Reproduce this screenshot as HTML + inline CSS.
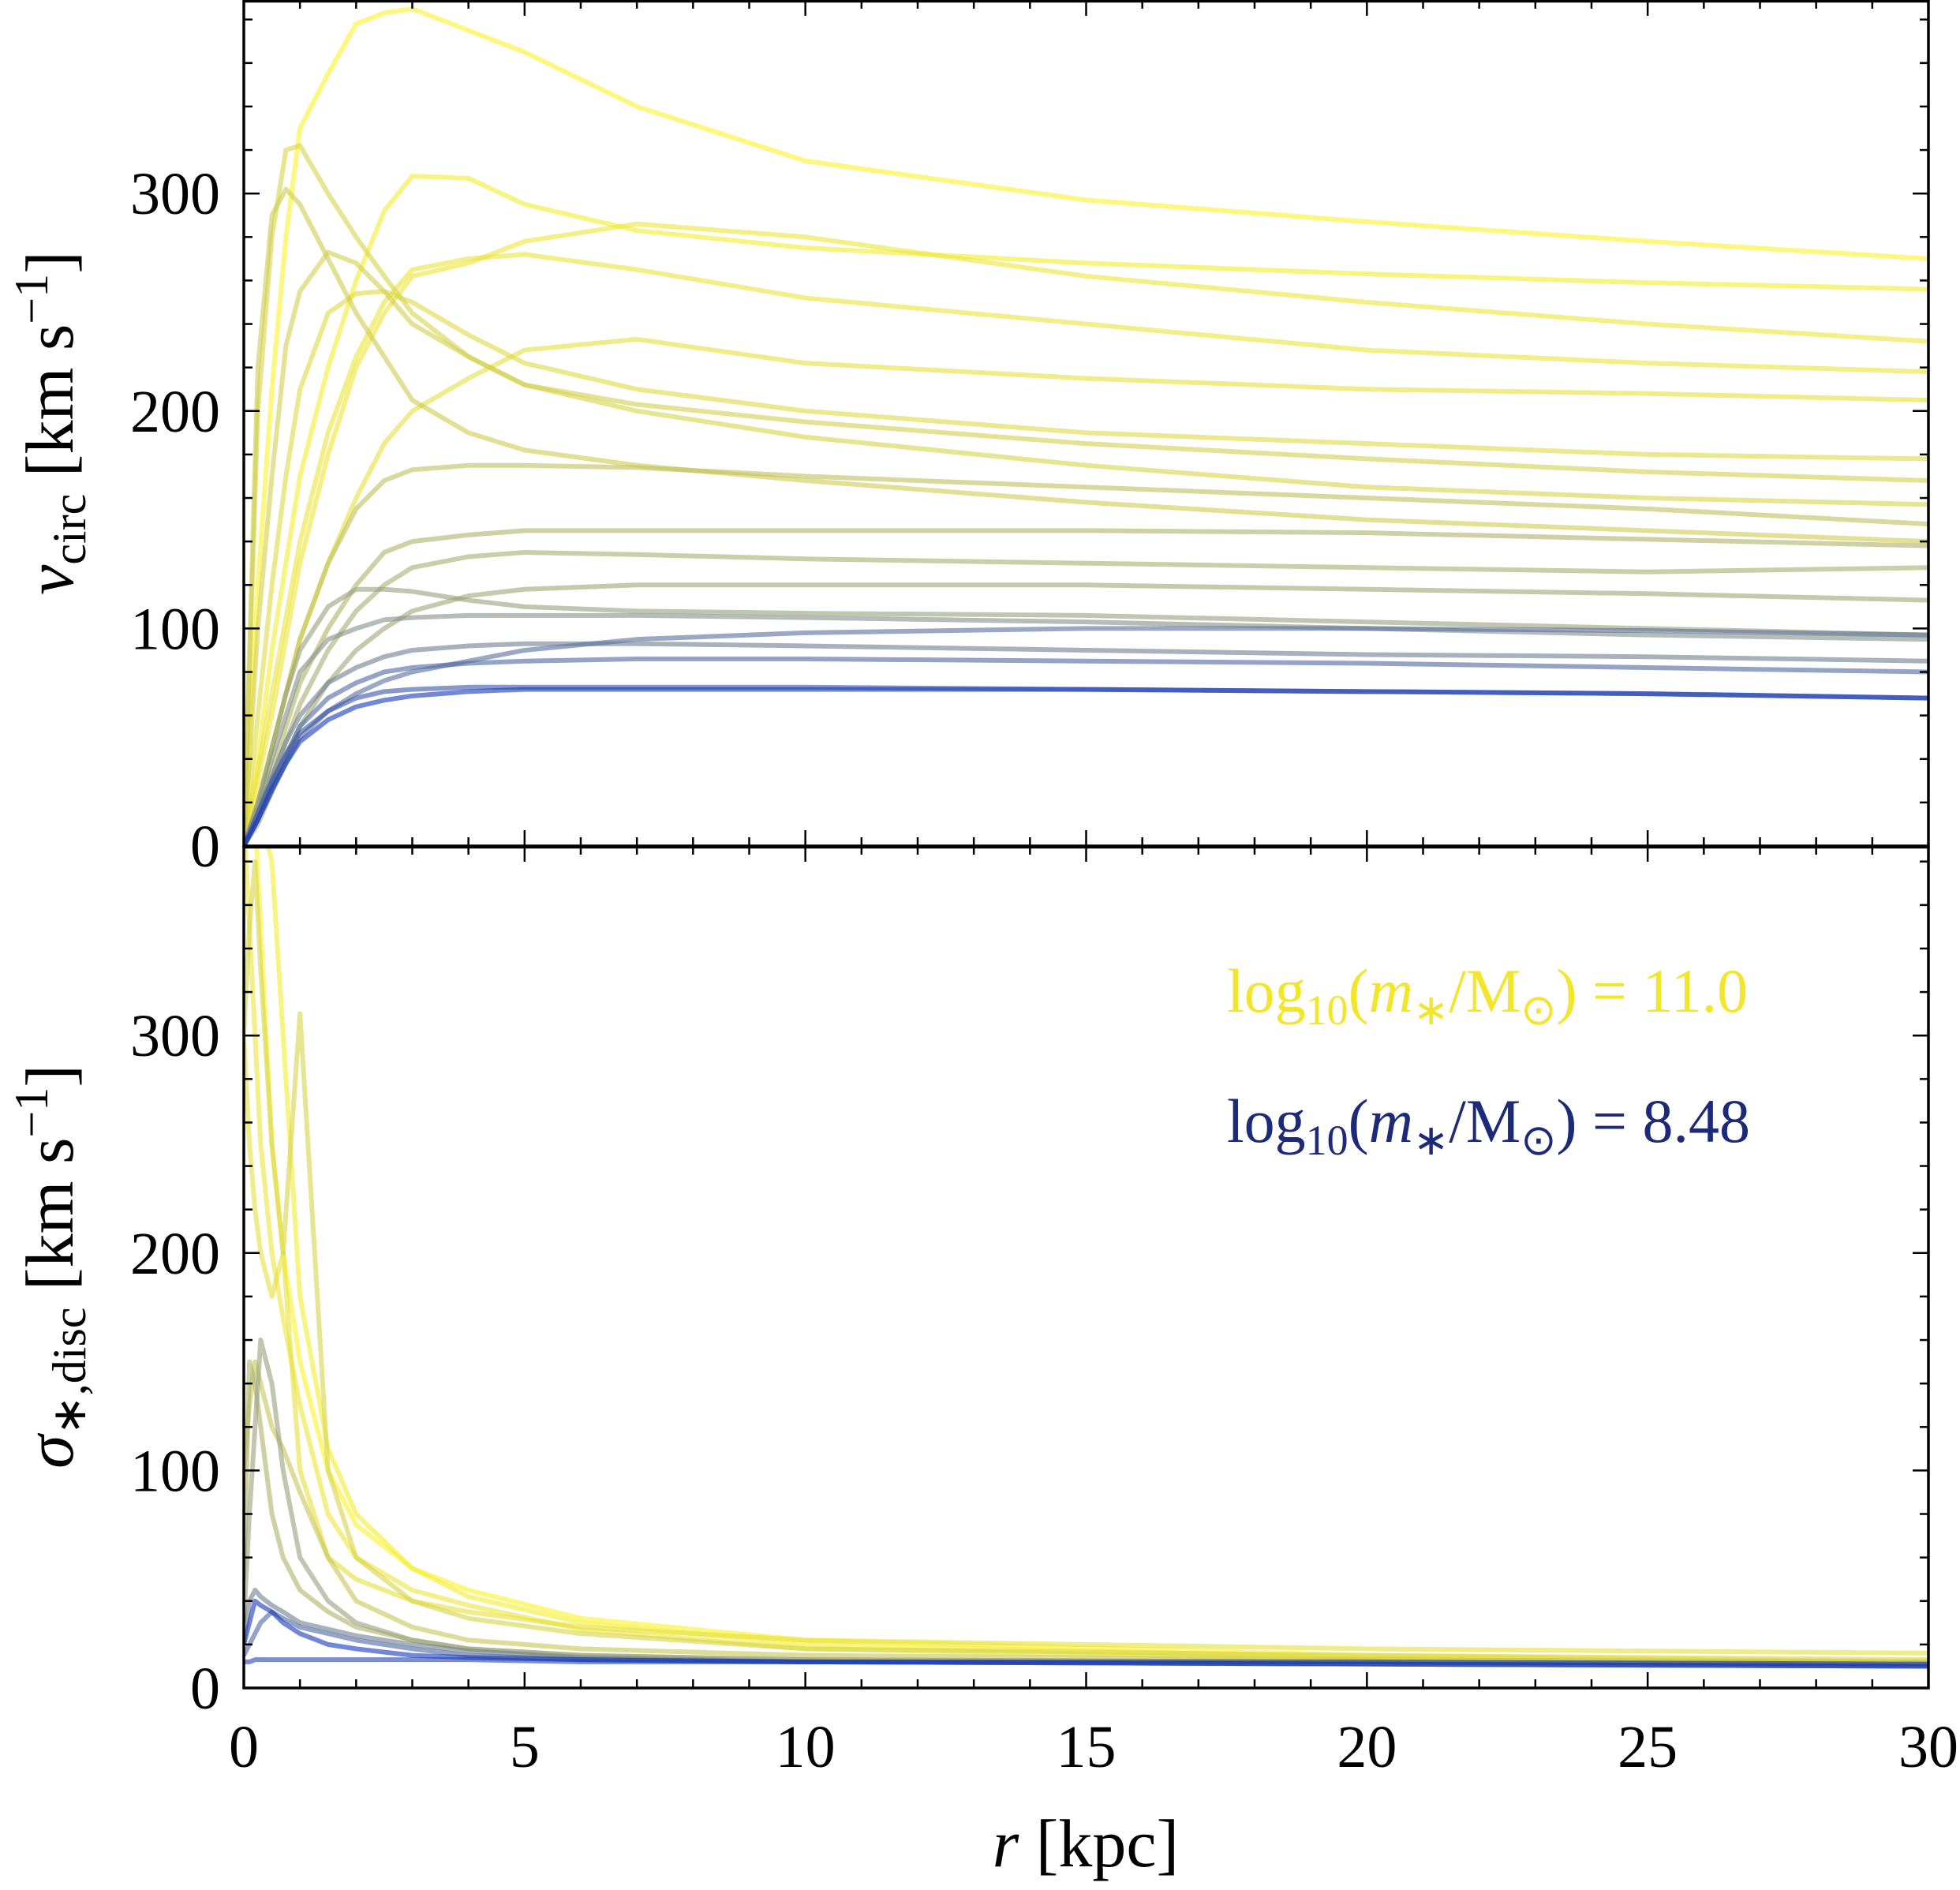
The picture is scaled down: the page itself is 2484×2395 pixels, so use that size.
<!DOCTYPE html>
<html><head><meta charset="utf-8"><style>
body{margin:0;background:#fff}
text{font-family:"Liberation Serif",serif;fill:#000}
</style></head><body>
<svg id="chart" width="2484" height="2390" viewBox="0 0 2484 2390" xmlns="http://www.w3.org/2000/svg">
<defs>
<clipPath id="ctop"><rect x="309" y="0" width="2135" height="1072"/></clipPath>
<clipPath id="cbot"><rect x="309" y="1072" width="2135" height="1067"/></clipPath>
</defs>
<g id="gtop" clip-path="url(#ctop)"></g>
<g id="gbot" clip-path="url(#cbot)"></g>
<g id="axes"></g>
<text x="1555" y="1282" font-size="78" style="fill:#f2e52a">log<tspan font-size="54" dy="16">10</tspan><tspan dy="-16">(</tspan><tspan font-style="italic">m</tspan><tspan font-size="54" dy="16">∗</tspan><tspan dy="-16">/M</tspan><tspan font-size="54" dy="16">⊙</tspan><tspan dy="-16">) = 11.0</tspan></text>
<text x="1555" y="1447" font-size="78" style="fill:#1c2a78">log<tspan font-size="54" dy="16">10</tspan><tspan dy="-16">(</tspan><tspan font-style="italic">m</tspan><tspan font-size="54" dy="16">∗</tspan><tspan dy="-16">/M</tspan><tspan font-size="54" dy="16">⊙</tspan><tspan dy="-16">) = 8.48</tspan></text>
<text x="1376" y="2365" font-size="86" text-anchor="middle"><tspan font-style="italic">r</tspan> [kpc]</text>
<text transform="translate(92,536) rotate(-90)" font-size="86" text-anchor="middle"><tspan font-style="italic">v</tspan><tspan font-size="60" dy="16">circ</tspan><tspan dy="-16"> [km s</tspan><tspan font-size="60" dy="-32">−1</tspan><tspan dy="32">]</tspan></text>
<text transform="translate(92,1605) rotate(-90)" font-size="86" text-anchor="middle"><tspan font-style="italic">σ</tspan><tspan font-size="60" dy="16">∗,disc</tspan><tspan dy="-16"> [km s</tspan><tspan font-size="60" dy="-32">−1</tspan><tspan dy="32">]</tspan></text>
</svg>
<script>
const rTop=[0,0.25,0.5,0.75,1,1.5,2,2.5,3,4,5,7,10,15,20,25,30];
const massTop=[11.0,10.9,10.8,10.75,10.5,10.4,10.45,10.6,10.7,10.2,10.0,9.9,9.7,9.8,9.5,9.3,9.0,8.8,8.48,9.1];
const vTop=[
[0,120,210,280,330,355,378,383,385,375,365,340,315,297,287,278,270],
[0,40,90,130,170,220,260,292,308,307,295,283,275,268,263,259,256],
[0,30,60,95,130,180,220,245,262,268,278,286,280,262,250,240,232],
[0,35,70,105,140,190,225,250,265,270,272,265,252,240,228,222,218],
[0,200,280,320,322,300,280,262,245,225,212,200,188,175,165,160,157],
[0,220,290,302,295,270,245,225,205,190,182,175,168,158,150,145,140],
[0,100,170,230,255,273,268,255,240,225,212,203,195,185,178,172,168],
[0,60,120,170,210,245,254,255,250,235,222,210,200,190,185,180,178],
[0,20,45,70,95,130,160,185,200,215,228,233,222,215,210,208,205],
[0,20,45,70,95,130,155,168,173,175,175,174,170,165,160,155,148],
[0,15,35,55,75,100,120,135,140,143,145,145,145,145,144,141,138],
[0,15,30,48,65,90,108,120,128,133,135,134,132,130,128,126,128],
[0,20,45,70,90,110,118,118,117,113,110,108,107,106,103,100,97],
[0,10,25,40,55,75,90,100,108,115,118,120,120,120,118,116,113],
[0,18,40,60,80,95,100,104,105,106,106,106,105,103,100,97,95],
[0,15,32,48,60,75,82,87,90,92,93,93,92,90,88,87,85],
[0,12,28,42,55,68,75,80,82,84,85,86,86,85,84,82,80],
[0,15,30,42,52,62,68,71,72,73,73,73,73,72,71,70,68],
[0,12,26,38,48,58,64,67,69,71,72,72,72,72,71,70,68],
[0,12,25,38,50,62,70,76,80,85,90,95,98,100,100,99,97]];
const rBot=[0,0.1,0.2,0.3,0.5,0.7,1,1.5,2,3,4,6,10,20,30];
const massBot=[11.0,10.9,10.8,10.5,10.7,10.0,9.7,9.3,9.0,8.6,8.48,10.3];
const sBot=[
[400,400,400,350,250,200,150,100,75,55,45,32,22,15,12],
[400,400,400,400,380,300,180,110,80,55,42,30,20,14,12],
[400,350,300,250,200,170,130,80,60,45,38,27,18,13,12],
[300,350,380,330,250,200,310,100,60,40,32,25,18,15,13],
[300,250,220,200,180,200,100,60,50,40,35,28,22,18,16],
[50,150,140,120,80,60,45,35,28,22,18,15,13,12,11],
[30,80,120,160,140,100,60,40,30,22,18,15,13,12,11],
[20,40,45,42,38,35,30,27,24,20,17,14,12,11,10],
[15,20,25,30,35,32,28,25,22,18,15,13,12,11,10],
[12,12,13,13,13,13,13,13,13,13,13,12,12,12,11],
[20,30,40,38,35,30,25,20,18,15,14,13,12,11,10],
[100,130,150,140,120,110,90,60,40,28,22,18,15,13,12]];
const xTicks=[0,5,10,15,20,25,30];
const yTicks=[0,100,200,300];

const X0=309,X1=2444,TOP0=1072,BOT0=2139,PPU=275.6/100;
const sx=r=>X0+(X1-X0)*r/30;
const syT=v=>TOP0-v*PPU;
const syB=v=>BOT0-v*PPU;
function col(m){
  const t=Math.max(0,Math.min(1,(m-8.48)/(11-8.48)));
  const a=[20,55,185],b=[145,155,130],c=[252,242,40];
  let p,q,u; if(t<0.45){p=a;q=b;u=t/0.45}else{p=b;q=c;u=(t-0.45)/0.55}
  return `rgb(${p.map((x,i)=>Math.round(x+(q[i]-x)*u)).join(',')})`;
}
const NS='http://www.w3.org/2000/svg';
function draw(g,rs,vals,masses,sy,name){
  const order=masses.map((m,i)=>i).sort((i,j)=>masses[j]-masses[i]);
  order.forEach(i=>{
    const p=document.createElementNS(NS,'polyline');
    p.setAttribute('points',rs.map((r,k)=>sx(r)+','+sy(vals[i][k])).join(' '));
    p.setAttribute('fill','none');p.setAttribute('stroke',col(masses[i]));
    p.setAttribute('stroke-width','6');p.setAttribute('stroke-opacity','0.6');
    p.setAttribute('stroke-linejoin','round');
    
    
    g.appendChild(p);
  });
}
draw(document.getElementById('gtop'),rTop,vTop,massTop,syT,'vcirc-curve');
draw(document.getElementById('gbot'),rBot,sBot,massBot,syB,'sigma-curve');

const ax=document.getElementById('axes');
function ln(x1,y1,x2,y2,w){const l=document.createElementNS(NS,'line');l.setAttribute('x1',x1);l.setAttribute('y1',y1);l.setAttribute('x2',x2);l.setAttribute('y2',y2);l.setAttribute('stroke','#000');l.setAttribute('stroke-width',w);


ax.appendChild(l);}
function tx(x,y,s,anchor,name){const t=document.createElementNS(NS,'text');t.setAttribute('x',x);t.setAttribute('y',y);t.setAttribute('font-size','76');t.setAttribute('text-anchor',anchor);t.textContent=s;


ax.appendChild(t);}
[[0,TOP0],[TOP0,BOT0]].forEach(([y0,y1])=>{
  const r=document.createElementNS(NS,'rect');r.setAttribute('x',X0);r.setAttribute('y',y0+1.5);r.setAttribute('width',X1-X0);r.setAttribute('height',y1-y0-1.5);r.setAttribute('fill','none');r.setAttribute('stroke','#000');r.setAttribute('stroke-width','3.5');
  
  
  ax.appendChild(r);
});
for(let r=0;r<=30;r++){const x=sx(r);const L=r%5===0?20:11;
  [0,TOP0,BOT0].forEach(y=>{ if(y!==0)ln(x,y,x,y-L,2.5); if(y!==BOT0)ln(x,y,x,y+L,2.5);});}
xTicks.forEach(r=>tx(sx(r),BOT0+100,String(r),'middle','x-tick-label'));
[syT,syB].forEach(sy=>{
  for(let v=0;v<=389;v+=20){const y=sy(v);if(y<0)continue;const L=v%100===0?20:11;ln(X0,y,X0+L,y,2.5);ln(X1,y,X1-L,y,2.5);}
});
yTicks.forEach(v=>{tx(X0-30,syT(v)+26,String(v),'end','y-tick-label-top');tx(X0-30,syB(v)+26,String(v),'end','y-tick-label-bottom');});
</script>
</body></html>
